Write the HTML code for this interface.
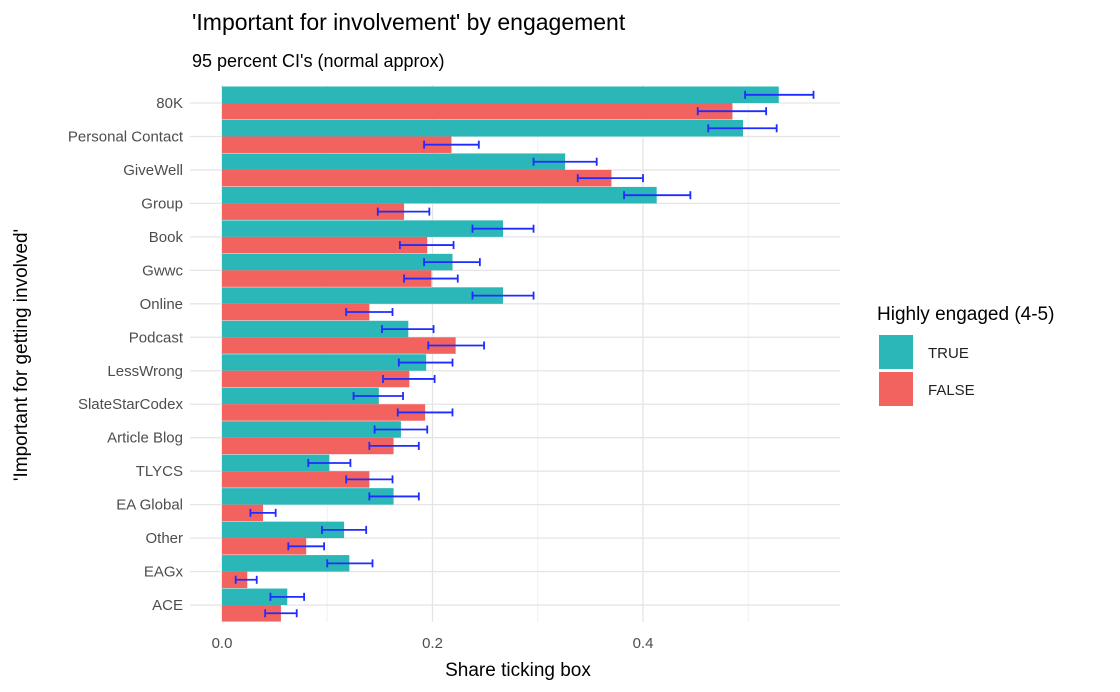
<!DOCTYPE html>
<html><head><meta charset="utf-8"><style>
body{margin:0;background:#fff;}
svg{display:block;font-family:"Liberation Sans",sans-serif;}
</style></head><body>
<svg id="chart" width="1120" height="692" viewBox="0 0 1120 692">
<text x="192" y="30" font-size="23" fill="#000">'Important for involvement' by engagement</text>
<text x="192" y="67" font-size="18" fill="#000">95 percent CI's (normal approx)</text>
<g id="grid"></g><g id="bars"></g><g id="axes"></g>
<text x="518" y="676" font-size="19" text-anchor="middle" fill="#000">Share ticking box</text>
<text transform="translate(27,355) rotate(-90)" font-size="19" text-anchor="middle" fill="#000">'Important for getting involved'</text>
<g>
<text x="877" y="320" font-size="19" fill="#000">Highly engaged (4-5)</text>
<rect x="879" y="335" width="34" height="34" fill="#2BB6B7"/>
<text x="928" y="358" font-size="15" fill="#222">TRUE</text>
<rect x="879" y="372" width="34" height="34" fill="#F2625F"/>
<text x="928" y="395" font-size="15" fill="#222">FALSE</text>
</g>
</svg>
<script>
const categories=["80K","Personal Contact","GiveWell","Group","Book","Gwwc","Online","Podcast","LessWrong","SlateStarCodex","Article Blog","TLYCS","EA Global","Other","EAGx","ACE"];
const trueVals=[0.529,0.495,0.326,0.413,0.267,0.219,0.267,0.177,0.194,0.149,0.170,0.102,0.163,0.116,0.121,0.062];
const trueLo=[0.497,0.462,0.296,0.382,0.238,0.192,0.238,0.152,0.168,0.125,0.145,0.082,0.140,0.095,0.100,0.046];
const trueHi=[0.562,0.527,0.356,0.445,0.296,0.245,0.296,0.201,0.219,0.172,0.195,0.122,0.187,0.137,0.143,0.078];
const falseVals=[0.485,0.218,0.370,0.173,0.195,0.199,0.140,0.222,0.178,0.193,0.163,0.140,0.039,0.080,0.024,0.056];
const falseLo=[0.452,0.192,0.338,0.148,0.169,0.173,0.118,0.196,0.153,0.167,0.140,0.118,0.027,0.063,0.013,0.041];
const falseHi=[0.517,0.244,0.400,0.197,0.220,0.224,0.162,0.249,0.202,0.219,0.187,0.162,0.051,0.097,0.033,0.071];
const xTicks=[0,0.2,0.4];
const xTickLabels=["0.0","0.2","0.4"];
const xMinor=[0.1,0.3,0.5];
const NS="http://www.w3.org/2000/svg";
const X=v=>222+v*1052.5;
const Y=i=>103+i*33.47;
const plotLeft=190,plotRight=840,plotTop=85,plotBottom=622;
function mk(tag,attrs,parent){const e=document.createElementNS(NS,tag);for(const k in attrs)e.setAttribute(k,attrs[k]);parent.appendChild(e);return e;}
const gridG=document.getElementById('grid'),barsG=document.getElementById('bars'),axesG=document.getElementById('axes');
xMinor.forEach(v=>{const l=mk('line',{x1:X(v),x2:X(v),y1:plotTop,y2:plotBottom,stroke:'#f0f0f0','stroke-width':1},gridG);

});
xTicks.forEach((v,i)=>{const l=mk('line',{x1:X(v),x2:X(v),y1:plotTop,y2:plotBottom,stroke:'#e5e5e5','stroke-width':1.3},gridG);


const t=mk('text',{x:X(v),y:648,'font-size':15,'text-anchor':'middle',fill:'#4d4d4d'},axesG);t.textContent=xTickLabels[i];

});
categories.forEach((c,i)=>{const l=mk('line',{x1:plotLeft,x2:plotRight,y1:Y(i),y2:Y(i),stroke:'#e5e5e5','stroke-width':1.3},gridG);


const t=mk('text',{x:183,y:Y(i)+5,'font-size':15,'text-anchor':'end',fill:'#4d4d4d'},axesG);t.textContent=c;

});
function ci(lo,hi,y){const g=mk('g',{stroke:'#1f2cff','stroke-width':1.8},barsG);


mk('line',{x1:X(lo),x2:X(hi),y1:y,y2:y},g);mk('line',{x1:X(lo),x2:X(lo),y1:y-4,y2:y+4},g);mk('line',{x1:X(hi),x2:X(hi),y1:y-4,y2:y+4},g);}
categories.forEach((c,i)=>{const y=Y(i);
const bt=mk('rect',{x:X(0),y:y-16.5,width:X(trueVals[i])-X(0),height:16.5,fill:'#2BB6B7'},barsG);


const bf=mk('rect',{x:X(0),y:y,width:X(falseVals[i])-X(0),height:16.5,fill:'#F2625F'},barsG);


ci(trueLo[i],trueHi[i],y-8.2);ci(falseLo[i],falseHi[i],y+8.2);});
</script>
</body></html>
